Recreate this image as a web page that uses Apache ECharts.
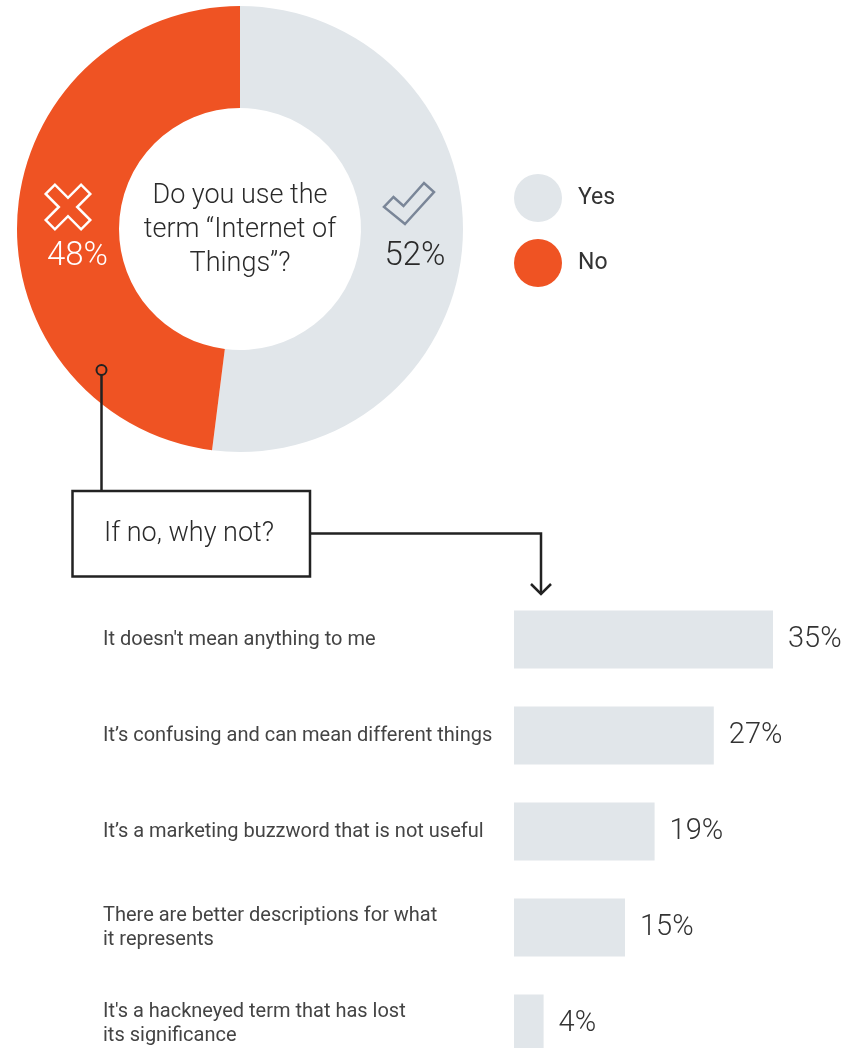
<!DOCTYPE html>
<html>
<head>
<meta charset="utf-8">
<style>
  html, body { margin: 0; padding: 0; background: #ffffff; }
  #chart { width: 861px; height: 1048px; }
</style>
<script src="https://cdn.jsdelivr.net/npm/echarts@6/dist/echarts.min.js"></script>
</head>
<body>
<div id="chart"></div>
<script>
// Survey answers: do you use the term?
const answerNames = ['Yes', 'No'];
const answerShares = [52, 48];

// Follow-up: reasons given by those who answered "No"
const reasons = [
  "It doesn't mean anything to me",
  'It\u2019s confusing and can mean different things',
  'It\u2019s a marketing buzzword that is not useful',
  'There are better descriptions for what\nit represents',
  "It's a hackneyed term that has lost\nits significance"
];
const reasonShares = [35, 27, 19, 15, 4];

const question = 'Do you use the\nterm \u201cInternet of\nThings\u201d?';
const followUp = 'If no, why not?';

const GREY = '#E1E6EA';
const ORANGE = '#EF5323';
const INK = '#222222';
const FONT = 'Roboto';

// outlined cross drawn as a plus shape rotated by 45 degrees
function crossPoints(a, b) {
  return [[-b, -a], [b, -a], [b, -b], [a, -b], [a, b], [b, b], [b, a], [-b, a], [-b, b], [-a, b], [-a, -b], [-b, -b]];
}

const chart = echarts.init(document.getElementById('chart'), null, { renderer: 'canvas' });

chart.setOption({
  animation: false,
  backgroundColor: '#ffffff',
  color: [GREY, ORANGE],
  legend: {
    orient: 'vertical',
    left: 514,
    top: 174,
    padding: 0,
    itemWidth: 48,
    itemHeight: 48,
    itemGap: 17,
    icon: 'circle',
    selectedMode: false,
    data: answerNames,
    textStyle: { fontFamily: FONT, fontSize: 23, color: '#333333', padding: [0, 0, 0, 11] }
  },
  grid: {
    left: 514,
    top: 591.5,
    width: 296,
    height: 480,
    outerBoundsMode: 'none'
  },
  xAxis: { type: 'value', min: 0, max: 40, show: false },
  yAxis: {
    type: 'category',
    data: reasons,
    inverse: true,
    axisLine: { show: false },
    axisTick: { show: false },
    splitLine: { show: false },
    axisLabel: {
      align: 'left',
      margin: 411,
      fontFamily: FONT,
      fontSize: 20,
      lineHeight: 24,
      color: '#444444'
    }
  },
  series: [
    {
      type: 'pie',
      silent: true,
      center: [240, 229],
      radius: [121, 223],
      startAngle: 90,
      clockwise: true,
      label: { show: false },
      labelLine: { show: false },
      emphasis: { disabled: true },
      data: answerNames.map((n, i) => ({ name: n, value: answerShares[i] }))
    },
    {
      type: 'bar',
      silent: true,
      barWidth: 58,
      itemStyle: { color: GREY },
      label: {
        show: true,
        position: 'right',
        distance: 15,
        formatter: p => p.value + '%',
        fontFamily: FONT,
        fontSize: 29,
        fontWeight: 300,
        color: '#333333'
      },
      data: reasonShares
    }
  ],
  graphic: [
    // question in the middle of the donut
    {
      type: 'text', x: 240, y: 230, z: 10,
      style: {
        text: question, fontFamily: FONT, fontSize: 27, fontWeight: 300, lineHeight: 34,
        fill: '#2a2a2a', align: 'center', verticalAlign: 'middle'
      }
    },
    // "No" marker and share
    {
      type: 'polygon', x: 68, y: 207, rotation: Math.PI / 4, z: 10,
      shape: { points: crossPoints(25, 6.5) },
      style: { fill: 'none', stroke: '#ffffff', lineWidth: 2.5, lineJoin: 'miter' }
    },
    {
      type: 'text', x: 77.5, y: 257, z: 10,
      style: {
        text: answerShares[1] + '%', fontFamily: FONT, fontSize: 33, fontWeight: 300,
        fill: '#ffffff', align: 'center', verticalAlign: 'middle'
      }
    },
    // "Yes" marker and share
    {
      type: 'polygon', z: 10,
      shape: { points: [[405, 224], [434, 192], [424, 183], [403.5, 206], [393.5, 197], [384, 207]] },
      style: { fill: 'none', stroke: '#7A8698', lineWidth: 2.5, lineJoin: 'miter' }
    },
    {
      type: 'text', x: 415, y: 257, z: 10,
      style: {
        text: answerShares[0] + '%', fontFamily: FONT, fontSize: 33, fontWeight: 300,
        fill: '#2a2a2a', align: 'center', verticalAlign: 'middle'
      }
    },
    // connector from the "No" segment down to the follow-up box
    {
      type: 'circle', z: 10,
      shape: { cx: 101.5, cy: 370, r: 5 },
      style: { fill: 'none', stroke: INK, lineWidth: 2 }
    },
    {
      type: 'line', z: 10,
      shape: { x1: 101.5, y1: 375, x2: 101.5, y2: 491 },
      style: { stroke: INK, lineWidth: 2.5 }
    },
    {
      type: 'rect', z: 10,
      shape: { x: 72.5, y: 491, width: 237.5, height: 85.5 },
      style: { fill: '#ffffff', stroke: INK, lineWidth: 2.5 }
    },
    {
      type: 'text', x: 189, y: 534, z: 11,
      style: {
        text: followUp, fontFamily: FONT, fontSize: 27, fontWeight: 300,
        fill: '#2a2a2a', align: 'center', verticalAlign: 'middle'
      }
    },
    {
      type: 'polyline', z: 10,
      shape: { points: [[310, 533.5], [541, 533.5], [541, 594]] },
      style: { fill: 'none', stroke: INK, lineWidth: 2.5 }
    },
    {
      type: 'polyline', z: 10,
      shape: { points: [[531, 584], [541, 594], [551, 584]] },
      style: { fill: 'none', stroke: INK, lineWidth: 2.5 }
    }
  ]
});
</script>
</body>
</html>
